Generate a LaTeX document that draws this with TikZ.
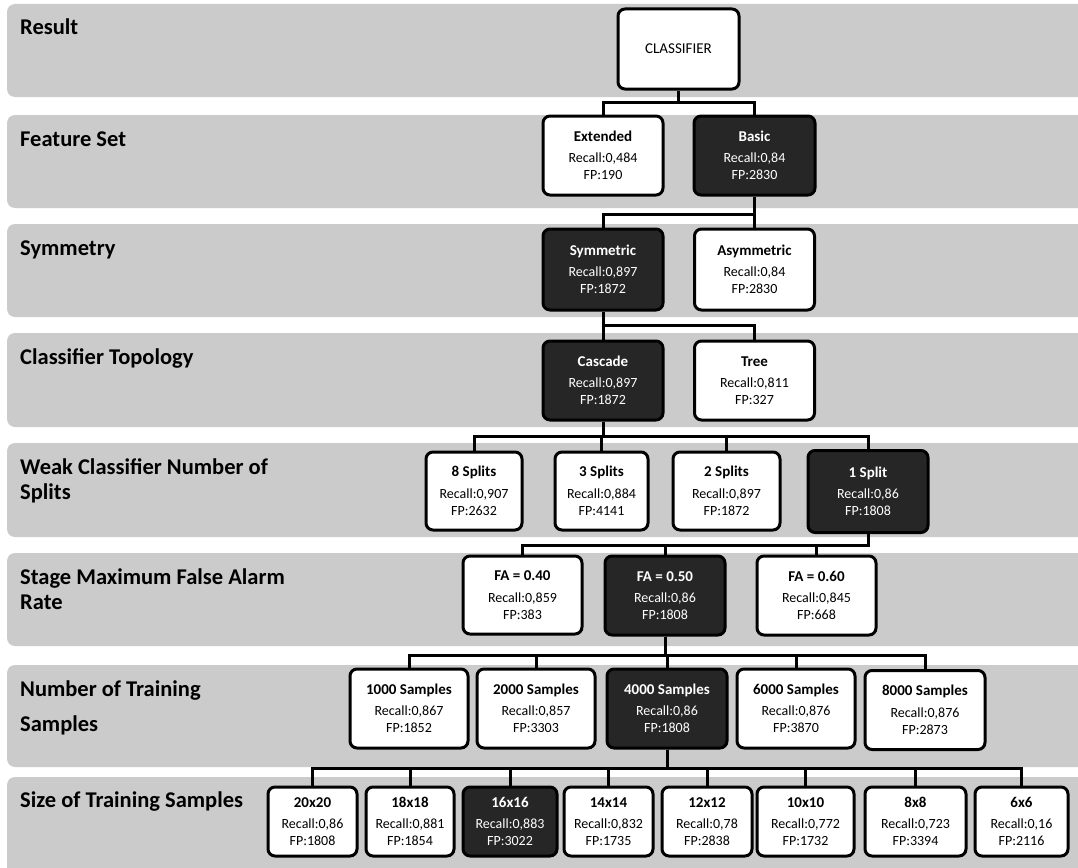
\documentclass[tikz,border=0pt]{standalone}
\usepackage{fontspec}
\setmainfont{Carlito}
\definecolor{bandgray}{HTML}{CBCBCB}
\definecolor{darkbox}{HTML}{262626}
\tikzset{
  band/.style={fill=bandgray, draw=none, rounded corners=8pt},
  nd/.style={draw=black, line width=3pt, rounded corners=7pt, fill=white, text=black,
     align=center, inner sep=0pt, font=\fontsize{14}{17}\selectfont},
  sel/.style={nd, fill=darkbox, text=white},
  conn/.style={line width=3pt, draw=black},
  lbl/.style={anchor=base west, inner sep=0pt, font=\fontsize{22.5}{26}\selectfont\bfseries}
}
\newcommand{\bx}[3]{{\fontsize{15}{17}\selectfont\bfseries #1}\\[4.5pt]Recall:#2\\FP:#3}
\begin{document}
\begin{tikzpicture}[x=1pt,y=-1pt]
\useasboundingbox (0,0) rectangle (1078,867);
% bands
\fill[band] (7,4) rectangle (1100,97);
\fill[band] (7,115) rectangle (1100,208);
\fill[band] (7,224) rectangle (1100,317);
\fill[band] (7,333) rectangle (1100,427);
\fill[band] (7,443) rectangle (1100,537);
\fill[band] (7,553) rectangle (1100,646);
\fill[band] (7,665) rectangle (1100,767);
\fill[band] (7,777) rectangle (1100,880);
% labels
\node[lbl] (l1) at (20,35) {Result};
\node[lbl] (l2) at (20,146) {Feature Set};
\node[lbl] (l3) at (20,255) {Symmetry};
\node[lbl] (l4) at (20,364) {Classifier Topology};
\node[lbl] (l5a) at (20,474) {Weak Classifier Number of};
\node[lbl] (l5b) at (20,499) {Splits};
\node[lbl] (l6a) at (20,584) {Stage Maximum False Alarm};
\node[lbl] (l6b) at (20,609) {Rate};
\node[lbl] (l7a) at (20,696) {Number of Training};
\node[lbl] (l7b) at (20,731) {Samples};
\node[lbl] (l8) at (20,807) {Size of Training Samples};
% nodes
\node[nd, minimum width=121, minimum height=80, font=\fontsize{15}{17}\selectfont] (cls) at (678.5,49) {CLASSIFIER};
\node[nd, minimum width=120, minimum height=79] (ext) at (603,155.5) {\bx{Extended}{0,484}{190}};
\node[sel, minimum width=121, minimum height=79] (bas) at (754.5,155.5) {\bx{Basic}{0,84}{2830}};
\node[sel, minimum width=120, minimum height=81] (sym) at (603,269.5) {\bx{Symmetric}{0,897}{1872}};
\node[nd, minimum width=120, minimum height=81] (asy) at (754.5,269.5) {\bx{Asymmetric}{0,84}{2830}};
\node[sel, minimum width=120, minimum height=79] (cas) at (603,380.5) {\bx{Cascade}{0,897}{1872}};
\node[nd, minimum width=120, minimum height=79] (tre) at (754.5,380.5) {\bx{Tree}{0,811}{327}};
\node[nd, minimum width=96, minimum height=78] (sp8) at (474,491) {\bx{8 Splits}{0,907}{2632}};
\node[nd, minimum width=93, minimum height=78] (sp3) at (601.5,491) {\bx{3 Splits}{0,884}{4141}};
\node[nd, minimum width=107, minimum height=78] (sp2) at (726.5,491) {\bx{2 Splits}{0,897}{1872}};
\node[sel, minimum width=120, minimum height=82] (sp1) at (868,491.5) {\bx{1 Split}{0,86}{1808}};
\node[nd, minimum width=119, minimum height=78] (fa4) at (522.5,595) {\bx{FA = 0.40}{0,859}{383}};
\node[sel, minimum width=120, minimum height=79] (fa5) at (665,595.5) {\bx{FA = 0.50}{0,86}{1808}};
\node[nd, minimum width=119, minimum height=79] (fa6) at (816.5,595.5) {\bx{FA = 0.60}{0,845}{668}};
\node[nd, minimum width=118, minimum height=79] (n1) at (409,708.5) {\bx{1000 Samples}{0,867}{1852}};
\node[nd, minimum width=118, minimum height=79] (n2) at (536,708.5) {\bx{2000 Samples}{0,857}{3303}};
\node[sel, minimum width=120, minimum height=79] (n4) at (667,708.5) {\bx{4000 Samples}{0,86}{1808}};
\node[nd, minimum width=118, minimum height=79] (n6) at (796,708.5) {\bx{6000 Samples}{0,876}{3870}};
\node[nd, minimum width=120, minimum height=79] (n8) at (925,710) {\bx{8000 Samples}{0,876}{2873}};
\node[nd, minimum width=89, minimum height=69] (z20) at (312.5,821.5) {\bx{20x20}{0,86}{1808}};
\node[nd, minimum width=88, minimum height=69] (z18) at (410,821.5) {\bx{18x18}{0,881}{1854}};
\node[sel, minimum width=94, minimum height=69] (z16) at (510,821.5) {\bx{16x16}{0,883}{3022}};
\node[nd, minimum width=89, minimum height=69] (z14) at (608.5,821.5) {\bx{14x14}{0,832}{1735}};
\node[nd, minimum width=90, minimum height=69] (z12) at (707,821.5) {\bx{12x12}{0,78}{2838}};
\node[nd, minimum width=97, minimum height=69] (z10) at (805.5,821.5) {\bx{10x10}{0,772}{1732}};
\node[nd, minimum width=101, minimum height=69] (z8) at (915.5,821.5) {\bx{8x8}{0,723}{3394}};
\node[nd, minimum width=93, minimum height=69] (z6) at (1021.5,821.5) {\bx{6x6}{0,16}{2116}};
% connectors
\foreach \p/\y/\cs in {cls/102/{ext,bas}, bas/214/{sym,asy}, sym/325/{cas,tre},
  cas/436/{sp8,sp3,sp2,sp1}, sp1/545/{fa4,fa5,fa6}, fa5/655/{n1,n2,n4,n6,n8},
  n4/768/{z20,z18,z16,z14,z12,z10,z8,z6}}{
  \foreach \c in \cs {
    \draw[conn] (\p.south) -- (\p.south |- 0,\y) -| (\c.north);
  }
}
\end{tikzpicture}
\end{document}
